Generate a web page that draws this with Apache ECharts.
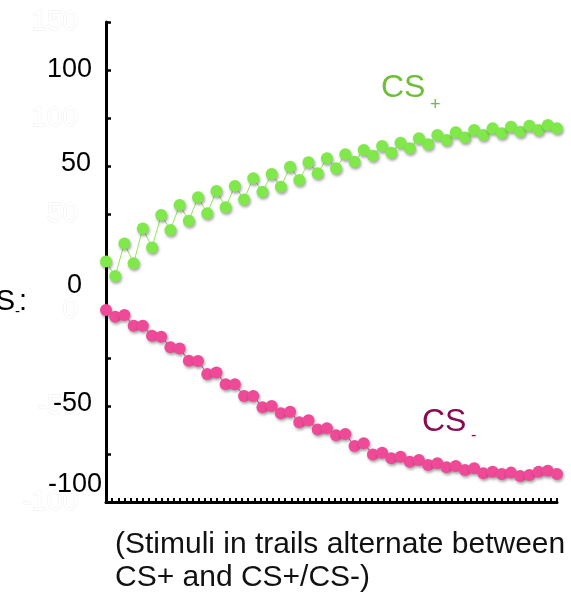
<!DOCTYPE html>
<html>
<head>
<meta charset="utf-8">
<script src="https://cdn.jsdelivr.net/npm/echarts@6/dist/echarts.min.js"></script>
<style>
  html, body { margin: 0; padding: 0; background: #fff; }
  #chart { width: 571px; height: 592px; }
</style>
</head>
<body>
<div id="chart"></div>
<script>
// Trial numbers along the horizontal axis
const trials = [1,2,3,4,5,6,7,8,9,10,11,12,13,14,15,16,17,18,19,20,21,22,23,24,25,
  26,27,28,29,30,31,32,33,34,35,36,37,38,39,40,41,42,43,44,45,46,47,48,49,50];

// Response to the reinforced stimulus (CS+)
const csPlus = [25.2, 17.7, 34.7, 24.3, 42.5, 32.6, 49.5, 41.7, 54.7, 46.5,
  58.7, 50.4, 62.0, 53.5, 64.6, 57.6, 68.6, 61.6, 70.8, 64.2,
  74.6, 67.7, 76.9, 71.2, 79.0, 73.8, 81.1, 77.2, 83.3, 80.4,
  85.4, 81.9, 87.1, 84.2, 89.4, 86.3, 91.1, 88.5, 92.6, 89.9,
  93.7, 91.1, 94.6, 92.0, 95.5, 92.9, 96.0, 93.7, 96.4, 94.6];

// Response to the non-reinforced stimulus (CS-)
const csMinus = [0, -3.5, -2.6, -8.2, -8.2, -13.4, -13.9, -19.4, -20.0, -26.4,
  -26.6, -33.3, -32.6, -38.7, -38.7, -44.8, -44.8, -50.7, -50.0, -53.8,
  -53.0, -58.5, -57.4, -62.3, -61.6, -65.2, -64.6, -70.8, -69.4, -75.2,
  -74.3, -77.2, -76.4, -79.0, -78.1, -80.7, -79.8, -81.9, -81.3, -83.3,
  -82.4, -85.0, -84.2, -85.4, -84.7, -86.5, -85.9, -84.2, -83.7, -85.4];

// Overlaid dark tick labels on the value axis
const overlayLabels = ['100', '50', '0', '-50', '-100'];
const overlayPos = [[92, 70], [91, 164], [82, 286], [92, 404], [102, 485]];

const noteLines = ['(Stimuli in trails alternate between', 'CS+ and CS+/CS-)'];
const plusName = 'CS', plusSub = '+';
const minusName = 'CS', minusSub = '-';

const FONT = '"Liberation Sans", Arial, Helvetica, sans-serif';
const chart = echarts.init(document.getElementById('chart'), null, { renderer: 'canvas' });

const graphics = [];
overlayLabels.forEach((t, i) => {
  graphics.push({
    type: 'text', z: 100,
    style: { text: t, x: overlayPos[i][0], y: overlayPos[i][1], textAlign: 'right',
      textVerticalAlign: 'middle', fill: '#000', font: '27px ' + FONT }
  });
});
// series names
graphics.push(
  { type: 'text', z: 100, style: { text: plusName, x: 381, y: 88, textAlign: 'left', textVerticalAlign: 'middle', fill: '#6cbf37', font: '32px ' + FONT } },
  { type: 'text', z: 100, style: { text: plusSub, x: 430, y: 105, textAlign: 'left', textVerticalAlign: 'middle', fill: '#6cbf37', font: '18px ' + FONT } },
  { type: 'text', z: 100, style: { text: minusName, x: 422, y: 422, textAlign: 'left', textVerticalAlign: 'middle', fill: '#8a0a4f', font: '32px ' + FONT } },
  { type: 'text', z: 100, style: { text: minusSub, x: 471, y: 436, textAlign: 'left', textVerticalAlign: 'middle', fill: '#8a0a4f', font: '16px ' + FONT } },
  // row label partly off the left edge
  { type: 'text', z: 100, style: { text: 'CS', x: 15, y: 302, textAlign: 'right', textVerticalAlign: 'middle', fill: '#000', font: '29px ' + FONT } },
  { type: 'text', z: 100, style: { text: '-', x: 15, y: 312, textAlign: 'left', textVerticalAlign: 'middle', fill: '#000', font: '15px ' + FONT } },
  { type: 'text', z: 100, style: { text: ':', x: 19, y: 302, textAlign: 'left', textVerticalAlign: 'middle', fill: '#000', font: '29px ' + FONT } }
);
noteLines.forEach((t, i) => {
  graphics.push({
    type: 'text', z: 100,
    style: { text: t, x: 115, y: 545 + i * 33, textAlign: 'left', textVerticalAlign: 'middle', fill: '#111', font: '30px ' + FONT }
  });
});

const markerStyle = (color) => ({
  color: color,
  shadowBlur: 3,
  shadowColor: 'rgba(0,0,0,0.35)',
  shadowOffsetX: 1,
  shadowOffsetY: 2
});

chart.setOption({
  animation: false,
  backgroundColor: '#fff',
  grid: { left: 106, right: 14, top: 22, bottom: 90, containLabel: false },
  xAxis: [
    {
      type: 'category', data: trials, boundaryGap: false, show: false
    },
    {
      type: 'value', min: 0, max: 73, interval: 1, position: 'bottom',
      axisLine: { show: true, lineStyle: { color: '#000', width: 3 } },
      axisTick: { show: true, inside: true, length: 4, lineStyle: { color: '#000', width: 2 } },
      axisLabel: { show: false },
      splitLine: { show: false }
    }
  ],
  yAxis: {
    type: 'value', min: -100, max: 150, interval: 25,
    axisLine: { show: true, lineStyle: { color: '#000', width: 3 } },
    axisTick: { show: true, inside: true, length: 5, lineStyle: { color: '#000', width: 2.5 } },
    axisLabel: {
      show: true, margin: 28, fontSize: 28, fontFamily: FONT,
      color: '#ffffff', textBorderColor: '#efefef', textBorderWidth: 1,
      formatter: (v) => (v % 50 === 0 ? String(v) : '')
    },
    splitLine: { show: false }
  },
  series: [
    {
      name: 'CS+', type: 'line', xAxisIndex: 0, data: csPlus,
      symbol: 'circle', symbolSize: 12, clip: false, showAllSymbol: true,
      lineStyle: { color: '#8fe85e', width: 1 },
      itemStyle: markerStyle('#80e84a')
    },
    {
      name: 'CS-', type: 'line', xAxisIndex: 0, data: csMinus,
      symbol: 'circle', symbolSize: 12, clip: false, showAllSymbol: true,
      lineStyle: { color: '#ee4a98', width: 1 },
      itemStyle: markerStyle('#ee4a98')
    }
  ],
  graphic: graphics
});
</script>
</body>
</html>
